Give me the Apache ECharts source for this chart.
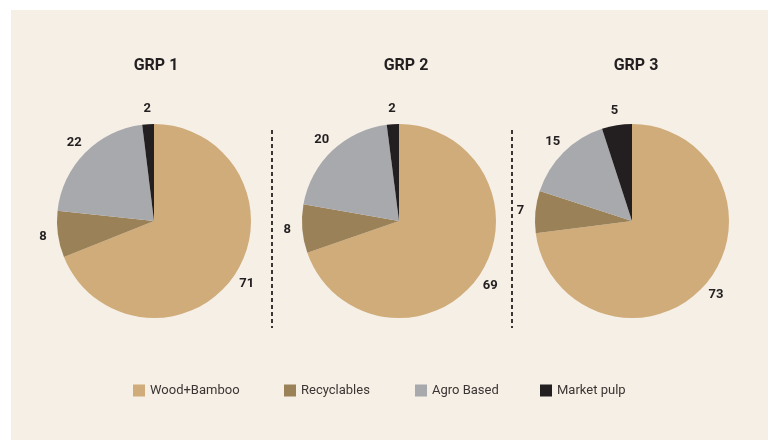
<!DOCTYPE html>
<html>
<head>
<meta charset="utf-8">
<script src="https://cdn.jsdelivr.net/npm/echarts@6/dist/echarts.min.js"></script>
<style>
  html, body { margin: 0; padding: 0; background: #ffffff; }
  #chart { width: 768px; height: 440px; }
</style>
</head>
<body>
<div id="chart"></div>
<script>
// Fibre mix by group (share of raw material)
const categories = ['Wood+Bamboo', 'Recyclables', 'Agro Based', 'Market pulp'];
const groups = ['GRP 1', 'GRP 2', 'GRP 3'];
const grp1Values = [71, 8, 22, 2];
const grp2Values = [69, 8, 20, 2];
const grp3Values = [73, 7, 15, 5];
const groupValues = [grp1Values, grp2Values, grp3Values];

const colors = ['#cfac79', '#9a8158', '#a7a9ac', '#231f20'];
const centers = [[154, 221], [399, 221], [632, 221]];
const titleX = [151, 401, 631];
const legendX = [133, 284, 415, 540];
const fontFamily = 'Roboto, "Open Sans", sans-serif';

const chart = echarts.init(document.getElementById('chart'), null, { renderer: 'canvas' });

const series = [];
groupValues.forEach((vals, g) => {
  const data = categories.map((name, i) => ({ name, value: vals[i] }));
  // the pie itself
  series.push({
    type: 'pie',
    center: centers[g],
    radius: [0, 97],
    startAngle: 90,
    clockwise: true,
    silent: true,
    label: { show: false },
    labelLine: { show: false },
    itemStyle: { borderWidth: 0 },
    data: data.map((d, i) => ({ ...d, itemStyle: { color: colors[i] } }))
  });
  // an invisible ring around it that carries the value labels
  series.push({
    type: 'pie',
    center: centers[g],
    radius: [97, 121],
    startAngle: 90,
    clockwise: true,
    silent: true,
    itemStyle: { color: 'rgba(0,0,0,0)', borderWidth: 0 },
    label: {
      show: true,
      position: 'inside',
      formatter: '{c}',
      color: '#231f20',
      fontFamily,
      fontWeight: 'bold',
      fontSize: 13
    },
    labelLine: { show: false },
    data
  });
});

// one legend entry per category, laid out along one row
const legends = categories.map((name, i) => ({
  data: [name],
  left: legendX[i],
  top: 384,
  padding: 0,
  itemWidth: 12,
  itemHeight: 12,
  icon: 'rect',
  selectedMode: false,
  textStyle: { fontFamily, fontSize: 13, color: '#3a3533' }
}));

const option = {
  backgroundColor: '#ffffff',
  animation: false,
  color: colors,
  graphic: [
    { type: 'rect', z: -10, shape: { x: 11, y: 10, width: 757, height: 430 }, style: { fill: '#f6efe6' } },
    { type: 'line', shape: { x1: 272, y1: 130, x2: 272, y2: 328 },
      style: { stroke: '#3a3533', lineWidth: 2, lineDash: [4, 3] } },
    { type: 'line', shape: { x1: 512, y1: 130, x2: 512, y2: 328 },
      style: { stroke: '#3a3533', lineWidth: 2, lineDash: [4, 3] } }
  ],
  title: groups.map((t, g) => ({
    text: t,
    left: titleX[g],
    top: 53,
    textAlign: 'center',
    textStyle: { fontFamily, fontWeight: 'bold', fontSize: 16, color: '#231f20' }
  })),
  legend: legends,
  series
};

chart.setOption(option);
</script>
</body>
</html>
